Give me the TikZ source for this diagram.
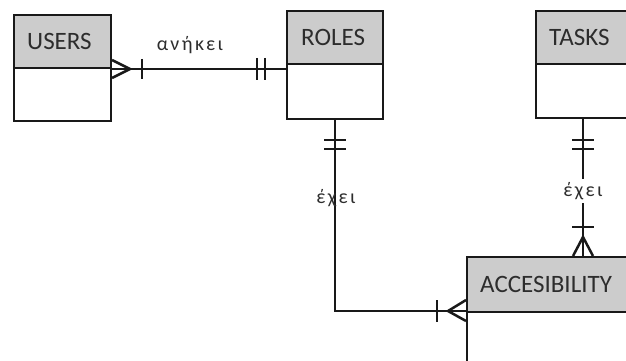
\documentclass[tikz,border=0pt]{standalone}
\usepackage{fontspec}
\setmainfont{Carlito}
\newfontfamily\lblfont[LetterSpace=12]{Carlito}
\usetikzlibrary{calc}
\definecolor{hdrgray}{RGB}{204,204,204}
\definecolor{ink}{RGB}{25,25,25}
\definecolor{txt}{RGB}{45,45,45}
\tikzset{
  hdr/.style={draw=ink, fill=hdrgray, line width=2pt, inner sep=0pt, anchor=north west},
  bodybox/.style={draw=ink, fill=white, line width=2pt, inner sep=0pt, anchor=north west},
  ttl/.style={font=\fontsize{25}{25}\selectfont, text=txt, anchor=west, inner sep=0pt},
  rel/.style={line width=2.5pt, draw=ink},
  lbl/.style={font=\lblfont\fontsize{20}{20}\selectfont, text=txt, inner sep=1pt}
}
\begin{document}
\begin{tikzpicture}[x=1pt,y=-1pt]
\useasboundingbox (0,0) rectangle (626,361);
\clip (0,0) rectangle (626,361);
% USERS
\node[hdr, minimum width=97pt, minimum height=53pt] (users) at (13,14) {};
\node[bodybox, minimum width=97pt, minimum height=53pt] (usersb) at (13,67) {};
\node[ttl] (userst) at ($(users.west)+(14,0)$) {USERS};
% ROLES
\node[hdr, minimum width=96pt, minimum height=53pt] (roles) at (286,10) {};
\node[bodybox, minimum width=96pt, minimum height=55pt] (rolesb) at (286,63) {};
\node[ttl] (rolest) at ($(roles.west)+(15,0)$) {ROLES};
% TASKS
\node[hdr, minimum width=110pt, minimum height=53pt] (tasks) at (535,10) {};
\node[bodybox, minimum width=110pt, minimum height=54pt] (tasksb) at (535,63) {};
\node[ttl] (taskst) at ($(tasks.west)+(14,0)$) {TASKS};
% ACCESIBILITY
\node[hdr, minimum width=180pt, minimum height=55pt] (acc) at (466,256) {};
\node[bodybox, minimum width=180pt, minimum height=80pt] (accb) at (466,311) {};
\node[ttl] (acct) at ($(acc.west)+(14,0)$) {ACCESIBILITY};

% USERS -- ROLES
\coordinate (ur1) at (users.south east);
\coordinate (ur2) at (ur1 -| roles.west);
\draw[rel] (ur1) -- (ur2);
\draw[rel] ($(ur1)+(0,-9)$) -- ($(ur1)+(18,0)$) -- ($(ur1)+(0,9)$);
\draw[rel] ($(ur1)+(30,-10)$) -- ($(ur1)+(30,10)$);
\draw[rel] ($(ur2)+(-29,-11)$) -- ($(ur2)+(-29,11)$);
\draw[rel] ($(ur2)+(-21,-11)$) -- ($(ur2)+(-21,11)$);
\node[lbl] (l1) at (190,45) {ανήκει};

% ROLES -- ACCESIBILITY
\coordinate (ra1) at (rolesb.south);
\coordinate (ra3) at (accb.north west);
\coordinate (ra2) at (ra1 |- ra3);
\draw[rel] (ra1) -- (ra2) -- (ra3);
\draw[rel] ($(ra1)+(-11,20)$) -- ($(ra1)+(11,20)$);
\draw[rel] ($(ra1)+(-11,29)$) -- ($(ra1)+(11,29)$);
\draw[rel] ($(ra3)+(-29,-11)$) -- ($(ra3)+(-29,11)$);
\draw[rel] ($(ra3)+(0,-11)$) -- ($(ra3)+(-18,0)$) -- ($(ra3)+(0,10)$);
\node[lbl] (l2) at (336,198) {έχει};

% TASKS -- ACCESIBILITY
\coordinate (ta1) at ($(tasksb.south west)+(48,0)$);
\coordinate (ta2) at (ta1 |- acc.north);
\draw[rel] (ta1) -- (ta2);
\draw[rel] ($(ta1)+(-11,21)$) -- ($(ta1)+(11,21)$);
\draw[rel] ($(ta1)+(-11,30)$) -- ($(ta1)+(11,30)$);
\draw[rel] ($(ta2)+(-11,-29)$) -- ($(ta2)+(11,-29)$);
\draw[rel] ($(ta2)+(-10,0)$) -- ($(ta2)+(0,-19)$) -- ($(ta2)+(10,0)$);
\node[lbl, fill=white, inner sep=3pt] (l3) at ($(ta1)!0.525!(ta2)$) {έχει};
\end{tikzpicture}
\end{document}
